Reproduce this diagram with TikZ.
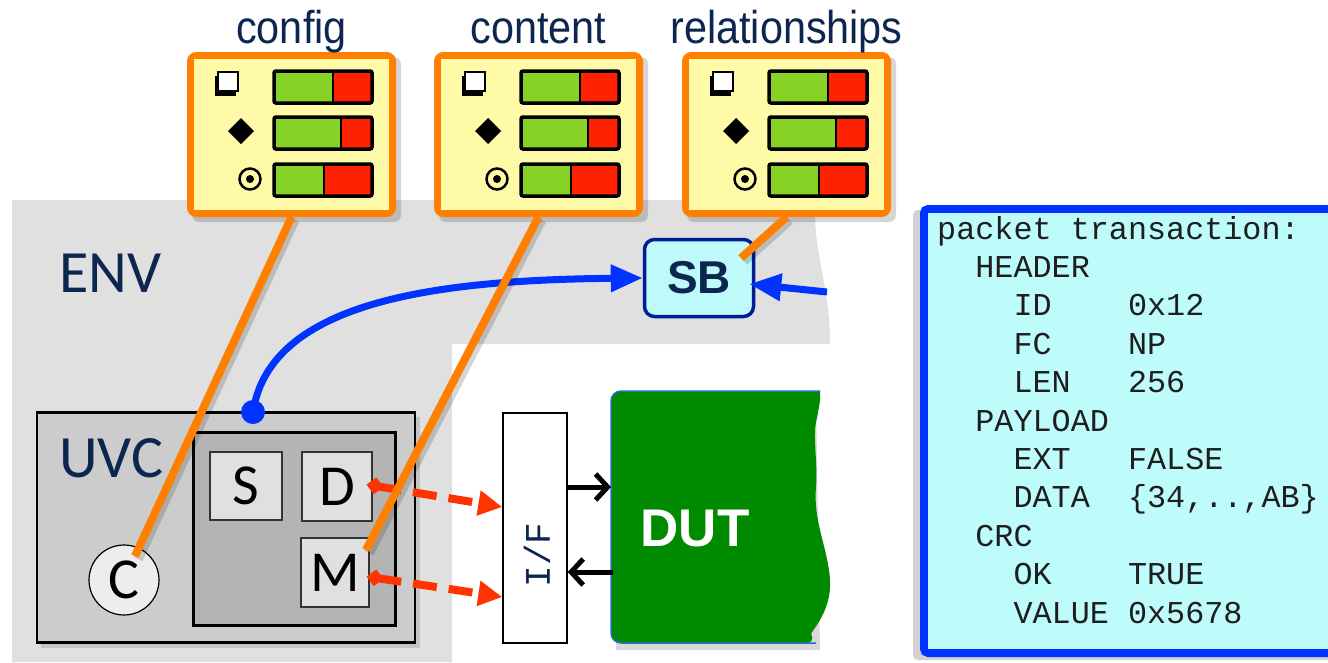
\documentclass[tikz,border=0pt]{standalone}
\usepackage{fontspec}
\setmainfont{Carlito}
\newfontfamily\titlefont[FakeStretch=0.9]{Liberation Sans}
\newfontfamily\boldsans{Liberation Sans}
\newfontfamily\pktmono{Liberation Mono}
\usetikzlibrary{arrows.meta,calc}
\definecolor{navy}{RGB}{12,38,80}
\definecolor{orng}{RGB}{255,128,0}
\definecolor{paleyel}{RGB}{255,253,215}
\definecolor{yel}{RGB}{255,250,168}
\definecolor{bargreen}{RGB}{136,210,40}
\definecolor{barred}{RGB}{255,34,0}
\definecolor{envgray}{RGB}{224,224,224}
\definecolor{uvcgray}{RGB}{204,204,204}
\definecolor{agentgray}{RGB}{180,180,180}
\definecolor{boxgray}{RGB}{224,224,224}
\definecolor{sbfill}{RGB}{190,250,250}
\definecolor{sbborder}{RGB}{0,30,150}
\definecolor{vblue}{RGB}{0,51,255}
\definecolor{dutgreen}{RGB}{0,138,0}
\definecolor{dutedge}{RGB}{40,110,200}
\definecolor{pktfill}{RGB}{190,252,252}
\definecolor{dashred}{RGB}{255,51,0}
\definecolor{pkttext}{RGB}{30,30,30}

% one coverage bar: left x, green end x, top y, bottom y
\newcommand\covbar[4]{%
  \fill[bargreen] (#1,#3) rectangle (#2,#4);
  \fill[barred] (#2,#3) rectangle ({#1+98},#4);
  \draw[line width=2.5pt] (#2,#3) -- (#2,#4);
  \draw[line width=3.5pt, rounded corners=2pt] (#1,#3) rectangle ({#1+98},#4);
}
% coverage panel: name, left x, title
\newcommand\covpanel[3]{%
  \fill[black, opacity=0.16, rounded corners=7pt] ({#2+5},57) rectangle ({#2+214},222);
  \node[covbox] (#1) at ({#2+104.5},134.5) {};
  \draw[orng, line width=1.5pt, fill=yel] ([shift={(6.5,6.5)}]#1.north west) rectangle ([shift={(-6.5,-6.5)}]#1.south east);
  \node[titletxt, anchor=base] (#1t) at ({#2+104.5},43) {#3};
  \fill ({#2+28},76) rectangle ({#2+49},96);
  \draw[line width=1.5pt, fill=white] ({#2+31},72) rectangle ({#2+51},91);
  \fill ({#2+54},118) -- ({#2+67},131) -- ({#2+54},144) -- ({#2+41},131) -- cycle;
  \draw[line width=2.5pt] ({#2+63},179) circle[radius=10.5pt];
  \fill ({#2+63},179) circle[radius=4pt];
  \covbar{#2+87}{#2+146}{71}{103}
  \covbar{#2+87}{#2+154}{117}{149}
  \covbar{#2+87}{#2+137}{164}{196}
}

\begin{document}
\begin{tikzpicture}[x=1pt,y=-1pt,
  covbox/.style={draw=orng, line width=7pt, fill=paleyel, rounded corners=6pt, minimum width=202pt, minimum height=158pt, inner sep=0},
  titletxt/.style={font=\titlefont\fontsize{46}{50}\selectfont, text=navy, inner sep=0},
  envlbl/.style={font=\fontsize{60}{64}\selectfont, text=navy, inner sep=0},
  uvcbox/.style={draw, line width=2.5pt, fill=uvcgray, inner sep=0},
  agentbox/.style={draw, line width=3pt, fill=agentgray, inner sep=0},
  subbox/.style={draw=black!80, line width=1.2pt, fill=boxgray, inner sep=0, font=\fontsize{58}{60}\selectfont},
  cnode/.style={circle, draw, line width=1.2pt, fill=black!7, inner sep=0, minimum size=70pt, font=\fontsize{58}{60}\selectfont},
  sbbox/.style={draw=sbborder, line width=3.5pt, fill=sbfill, rounded corners=10pt, minimum width=109pt, minimum height=77pt, inner sep=0, font=\boldsans\bfseries\fontsize{46}{50}\selectfont, text=navy},
  bluearrow/.style={vblue, line width=7pt, -{Triangle[length=32pt,width=26pt]}},
  orangeline/.style={orng, line width=8pt},
  oshadow/.style={black, opacity=0.16, line width=10pt},
  reddash/.style={dashred, line width=8pt, dash pattern=on 24pt off 12pt, {Turned Square[length=17pt,width=17pt]}-{Triangle[length=24pt,width=24pt]}},
  ifbox/.style={draw, line width=1.5pt, fill=white, inner sep=0},
  iftxt/.style={font=\pktmono\fontsize{36}{40}\selectfont, text=navy, inner sep=0},
  blkarrow/.style={line width=5pt, -{Straight Barb[length=12pt,width=26pt]}},
  duttxt/.style={text=white, font=\boldsans\bfseries\fontsize{53}{56}\selectfont, inner sep=0},
  pkt/.style={font=\pktmono\fontsize{31.8}{36}\selectfont, text=pkttext, anchor=base west, inner sep=0},
]
\useasboundingbox (0,0) rectangle (1328,662);
\fill[white] (0,0) rectangle (1328,662);

% ENV area
\fill[envgray] (12,200) -- (815,200) .. controls (813,255) and (830,285) .. (830,344) -- (452,344) -- (452,662) -- (12,662) -- cycle;
\node[envlbl, anchor=base west] (ENV) at (59,292) {ENV};

% UVC
\fill[black, opacity=0.12] (41,417) rectangle (420,648);
\node[uvcbox, minimum width=378pt, minimum height=230pt] (UVC) at (226,527.5) {};
\node[envlbl, anchor=base west] (UVCl) at (59,477) {UVC};
\node[agentbox, minimum width=202pt, minimum height=193pt] (AG) at (294,528.5) {};
\node[subbox, minimum width=72pt, minimum height=68pt] (S) at (246,486) {S};
\node[subbox, minimum width=70pt, minimum height=69pt] (D) at (337,486.5) {D};
\node[subbox, minimum width=68pt, minimum height=69pt] (M) at (335,572.5) {M};
\node[cnode] (C) at (124,580) {C};

% I/F
\node[ifbox, minimum width=64pt, minimum height=230pt] (IF) at (535,528) {};
\node[iftxt, rotate=90] (IFl) at (537,555) {I/F};

% DUT
\node[minimum width=210pt, minimum height=252pt, inner sep=0, anchor=north west] (DUTR) at (611,391) {};
\fill[black, opacity=0.15] (616,396) -- (816,396) -- (820,650) -- (616,650) -- cycle;
\fill[dutgreen] (820,391) [rounded corners=10pt] -- (611,391) -- (611,643) -- (816,643) [sharp corners]
  .. controls (810,632) and (832,612) .. (830,580)
  .. controls (828,548) and (813,522) .. (816,487)
  .. controls (818,462) and (812,435) .. (817,418)
  .. controls (819,407) and (821,398) .. (820,391) -- cycle;
\draw[dutedge, line width=1.5pt, rounded corners=10pt] (820,391) -- (611,391) -- (611,643) -- (816,643);
\node[duttxt] (DUT) at (695,529) {DUT};

\coordinate (a1) at ($(IF.east)+(0,-41)$);
\coordinate (a2) at ($(IF.east)+(0,44)$);
\draw[blkarrow] (a1) -- (a1 -| DUTR.west);
\draw[blkarrow] ([xshift=2pt]a2 -| DUTR.west) -- (a2);

% red dashed monitor/driver links
\draw[reddash] ([shift={(-6,-2)}]D.east) -- ([shift={(0,-21)}]IF.west);
\draw[reddash] ([shift={(-3,4)}]M.east) -- ([shift={(0,69)}]IF.west);

% SB and blue connections
\coordinate (dotc) at (253,412);
\node[sbbox] (SB) at (699,278) {SB};
\draw[bluearrow] (dotc) .. controls (270,300) and (440,280) .. (SB.west);
\node[circle, fill=vblue, minimum size=24pt, inner sep=0] (dot) at (dotc) {};
\coordinate (sbsrc) at (827,292);
\draw[bluearrow] (sbsrc) -- ([shift={(-6,6)}]SB.east);

% packet transaction panel
\fill[black!18, rounded corners=5pt] (913,210) rectangle (1350,660);
\node[draw=vblue, line width=6pt, fill=white, rounded corners=5pt, minimum width=430pt, minimum height=446pt, anchor=north west, inner sep=0] (PKT) at (920,205) {};
\draw[vblue, line width=1.5pt, fill=pktfill] ([shift={(7,7)}]PKT.north west) rectangle ([shift={(-7,-7)}]PKT.south east);
\node[pkt] (p0) at (937,239) {packet transaction:};
\node[pkt] (p1) at (975.2,277.4) {HEADER};
\node[pkt] (p2) at (1013.3,315.8) {ID};
\node[pkt] (v2) at (1127.8,315.8) {0x12};
\node[pkt] (p3) at (1013.3,354.2) {FC};
\node[pkt] (v3) at (1127.8,354.2) {NP};
\node[pkt] (p4) at (1013.3,392.6) {LEN};
\node[pkt] (v4) at (1127.8,392.6) {256};
\node[pkt] (p5) at (975.2,431) {PAYLOAD};
\node[pkt] (p6) at (1013.3,469.4) {EXT};
\node[pkt] (v6) at (1127.8,469.4) {FALSE};
\node[pkt] (p7) at (1013.3,507.8) {DATA};
\node[pkt] (v7) at (1127.8,507.8) {\{34,..,AB\}};
\node[pkt] (p8) at (975.2,546.2) {CRC};
\node[pkt] (p9) at (1013.3,584.6) {OK};
\node[pkt] (v9) at (1127.8,584.6) {TRUE};
\node[pkt] (p10) at (1013.3,623) {VALUE};
\node[pkt] (v10) at (1127.8,623) {0x5678};

% coverage panels
\covpanel{cfg}{187}{config}
\covpanel{cnt}{434}{content}
\covpanel{rel}{682}{relationships}

% orange links from coverage to components
\coordinate (cend) at (135,556);
\coordinate (mend) at (366,550);
\coordinate (sbhook) at (741,258);
\draw[oshadow] ([shift={(3,3)}]cfg.south) -- ([shift={(3,3)}]cend);
\draw[oshadow] ([shift={(3,3)}]cnt.south) -- ([shift={(3,3)}]mend);
\draw[oshadow] ([shift={(3,3)}]rel.south) -- ([shift={(3,3)}]sbhook);
\draw[orangeline] (cfg.south) -- (cend);
\draw[orangeline] (cnt.south) -- (mend);
\draw[orangeline] (rel.south) -- (sbhook);
\end{tikzpicture}
\end{document}
